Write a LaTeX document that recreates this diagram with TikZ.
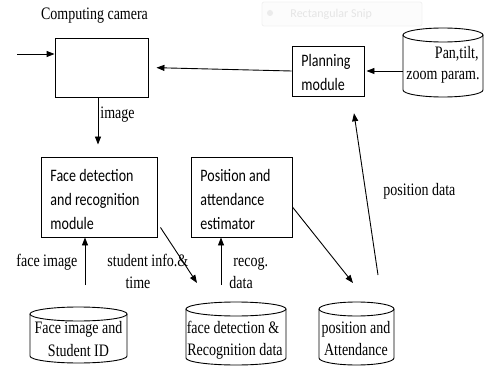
\documentclass[tikz,border=0pt]{standalone}
\usepackage{fontspec}
\setmainfont{Liberation Serif}[FakeStretch=0.8]
\newfontfamily\boxfont{Carlito}[FakeStretch=0.8]
\newfontfamily\snipfont{Carlito}
\usetikzlibrary{arrows.meta,calc}
\newcommand\dbcyl[5]{%
  \pgfmathsetmacro\cyc{(#2+#3)/2}%
  \pgfmathsetmacro\cyr{(#3-#2)/2}%
  \pgfmathsetmacro\cyt{#4+7}%
  \pgfmathsetmacro\cyb{#5-7}%
  \pgfmathsetmacro\cym{(#4+#5)/2}%
  \pgfmathsetmacro\cyh{#5-#4}%
  \pgfmathsetmacro\cyw{#3-#2}%
  \node[inner sep=0, minimum width=\cyw pt, minimum height=\cyh pt] (#1) at (\cyc,\cym) {};
  \draw (\cyc,\cyt) ellipse [x radius=\cyr pt, y radius=7pt];
  \draw (#2,\cyt) -- (#2,\cyb) arc [start angle=180, end angle=360, x radius=\cyr pt, y radius=7pt] -- (#3,\cyt);
}
\begin{document}
\begin{tikzpicture}[x=1pt,y=-1pt,line width=0.9pt,
  arr/.style={-{Triangle[length=8pt,width=6pt]}},
  lbl/.style={font=\fontsize{17.5}{21}\selectfont, inner sep=0, anchor=base west},
  lblc/.style={lbl, anchor=base},
  boxnode/.style={draw, inner sep=0},
  boxtext/.style={font=\boxfont\fontsize{17.5}{24}\selectfont, inner sep=0, anchor=north west, align=left}]
\useasboundingbox (0,0) rectangle (484,366);
% faint screenshot overlay
\node[draw=black!5, fill=black!1, rounded corners=2pt, minimum width=160pt, minimum height=24pt, inner sep=0] (snip) at (342,14) {};
\node[circle, fill=black!8, inner sep=0, minimum size=6pt] (snipdot) at (270,13) {};
\node[font=\snipfont\fontsize{12}{14}\selectfont, text=black!10, inner sep=0, anchor=base west] (sniptext) at (290,18) {Rectangular Snip};
% title
\node[lblc] (title) at (94.5,20) {Computing camera};
% boxes
\node[boxnode, minimum width=93pt, minimum height=59pt] (cam) at (101.5,67.5) {};
\node[boxnode, minimum width=72pt, minimum height=50pt] (plan) at (328,71) {};
\node[boxtext] (plantext) at (301,54) {Planning\\module};
\node[boxnode, minimum width=116pt, minimum height=80pt] (fd) at (99,197) {};
\node[boxtext] (fdtext) at (50,169) {Face detection\\and recognition\\module};
\node[boxnode, minimum width=101pt, minimum height=80pt] (pa) at (241.5,197) {};
\node[boxtext] (patext) at (200,169) {Position and\\attendance\\estimator};
% cylinders
\dbcyl{pan}{403}{483}{28}{97}
\node[lbl, anchor=base east] (pant1) at (479,59) {Pan,tilt,};
\node[lbl, anchor=base east] (pant2) at (480,80) {zoom param.};
\dbcyl{fsid}{30}{127}{307}{363}
\node[lblc] (fsid1) at (78.5,333) {Face image and};
\node[lblc] (fsid2) at (78.5,356) {Student ID};
\dbcyl{fdr}{186}{286}{302}{365}
\node[lblc] (fdr1) at (233,333) {face detection \&};
\node[lblc] (fdr2) at (235,355) {Recognition data};
\dbcyl{patt}{319}{394}{302}{365}
\node[lblc] (patt1) at (356,333) {position and};
\node[lblc] (patt2) at (356,355) {Attendance};
% labels
\node[lbl] (limage) at (100,119) {image};
\node[lbl] (lpos) at (383,196) {position data};
\node[lbl] (lface) at (16,266) {face image};
\node[lbl] (lstud) at (107,266) {student info.\&};
\node[lblc] (ltime) at (138,288) {time};
\node[lbl] (lrecog) at (233,266) {recog.};
\node[lbl] (ldata) at (229,288) {data};
% connectors
\coordinate (inS) at (17,54);
\draw[arr] (inS) -- (inS -| cam.west);
\draw[arr, shorten >=8pt] (plan.west) -- (cam.east);
\draw[arr, shorten >=2pt] (pan.west |- plan.east) -- (plan.east);
\draw[arr, shorten >=12pt] ([xshift=-3.5pt]cam.south) -- ([xshift=-3.5pt]cam.south |- fd.north);
\coordinate (pdS) at (378,275);
\draw[arr, shorten >=17pt] (pdS) -- ([xshift=23.5pt]plan.south);
\coordinate (t1) at (197,283);
\draw[arr] ([xshift=3pt,yshift=10pt]fd.south east) -- (t1);
\coordinate (t2) at (353,283);
\draw[arr] ([yshift=-10pt]pa.east) -- (t2);
\coordinate (fiS) at (85,285);
\draw[arr] (fiS) -- (fiS |- fd.south);
\coordinate (rdS) at (221,285);
\draw[arr] (rdS) -- (rdS |- pa.south);
\end{tikzpicture}
\end{document}
